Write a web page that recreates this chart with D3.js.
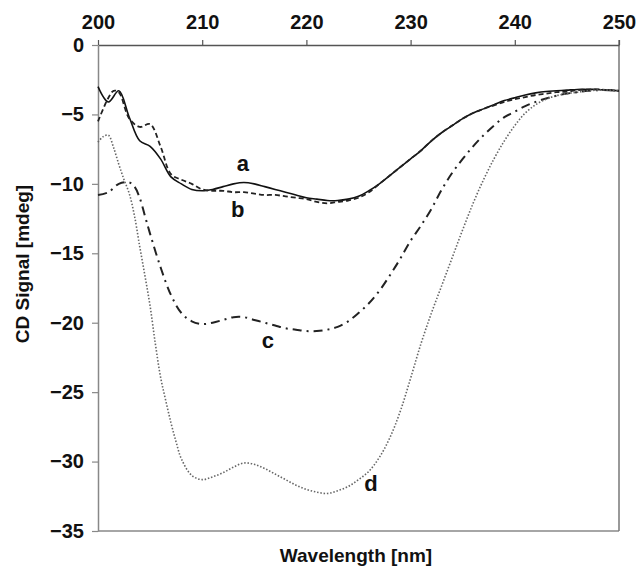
<!DOCTYPE html>
<html>
<head>
<meta charset="utf-8">
<script src="https://cdn.jsdelivr.net/npm/d3@7"></script>
<style>
  body { margin: 0; background: #fff; }
  text { font-family: "Liberation Sans", Arial, sans-serif; font-weight: bold; fill: #111; }
</style>
</head>
<body>
<svg id="chart" width="639" height="566"></svg>
<script>
// wavelength (nm) / CD signal (mdeg)
const waveA = [200, 201, 202, 203, 204, 205, 206, 207, 208, 209, 210, 211, 212, 213, 214, 215, 216, 217, 218, 219, 220, 221, 222, 223, 224, 225, 226, 227, 228, 229, 230, 231, 232, 233, 234, 235, 236, 237, 238, 239, 240, 241, 242, 243, 244, 245, 246, 247, 248, 249, 250];
const sigA = [-3.0, -4.1, -3.3, -5.2, -6.9, -7.3, -8.2, -9.5, -10.0, -10.4, -10.5, -10.4, -10.2, -10.0, -9.9, -10.0, -10.2, -10.4, -10.6, -10.8, -11.0, -11.1, -11.2, -11.2, -11.1, -10.9, -10.5, -10.0, -9.4, -8.8, -8.2, -7.6, -6.9, -6.3, -5.8, -5.3, -4.9, -4.6, -4.3, -4.0, -3.8, -3.6, -3.45, -3.35, -3.3, -3.25, -3.2, -3.2, -3.2, -3.25, -3.3];

const waveB = [200, 201, 201.5, 202, 203, 204, 205, 206, 207, 208, 209, 210, 211, 212, 213, 214, 215, 216, 217, 218, 219, 220, 221, 222, 223, 224, 225, 226, 227, 228, 229, 230, 231, 232, 233, 234, 235, 236, 237, 238, 239, 240, 241, 242, 243, 244, 245, 246, 247, 248, 249, 250];
const sigB = [-5.5, -3.8, -3.3, -3.4, -5.3, -5.9, -5.7, -7.3, -9.3, -9.7, -10.0, -10.4, -10.5, -10.5, -10.6, -10.6, -10.7, -10.8, -10.8, -10.9, -11.0, -11.1, -11.3, -11.4, -11.3, -11.2, -11.0, -10.6, -10.0, -9.4, -8.8, -8.2, -7.6, -6.9, -6.3, -5.8, -5.3, -4.9, -4.6, -4.35, -4.1, -3.9, -3.75, -3.6, -3.5, -3.4, -3.35, -3.25, -3.2, -3.2, -3.25, -3.3];

const waveC = [200, 201, 202, 203, 203.5, 204, 204.5, 205, 206, 207, 208, 209, 210, 211, 212, 213, 214, 215, 216, 217, 218, 219, 220, 221, 222, 223, 224, 225, 226, 227, 228, 229, 230, 231, 232, 233, 234, 235, 236, 237, 238, 239, 240, 241, 242, 243, 244, 245, 246, 247, 248, 249, 250];
const sigC = [-10.8, -10.6, -10.0, -9.9, -10.2, -11.0, -12.3, -13.6, -16.0, -18.0, -19.3, -19.9, -20.1, -20.0, -19.8, -19.6, -19.6, -19.8, -20.0, -20.2, -20.4, -20.5, -20.6, -20.6, -20.5, -20.3, -19.9, -19.3, -18.6, -17.7, -16.6, -15.4, -14.1, -13.0, -11.8, -10.4, -9.2, -8.2, -7.3, -6.5, -5.8, -5.2, -4.8, -4.4, -4.1, -3.85, -3.65, -3.5, -3.4, -3.3, -3.25, -3.25, -3.3];

const waveD = [200, 200.5, 201, 201.5, 202, 202.5, 203, 203.5, 204, 204.5, 205, 205.5, 206, 206.5, 207, 207.5, 208, 209, 210, 211, 212, 213, 214, 215, 216, 217, 218, 219, 220, 221, 222, 223, 224, 225, 226, 227, 228, 229, 230, 231, 232, 233, 234, 235, 236, 237, 238, 239, 240, 241, 242, 243, 244, 245, 246, 247, 248, 249, 250];
const sigD = [-7.0, -6.6, -6.5, -7.4, -8.6, -9.7, -10.7, -12.3, -14.5, -16.6, -18.8, -21.5, -23.9, -25.6, -27.2, -28.6, -29.8, -31.0, -31.3, -31.1, -30.8, -30.4, -30.1, -30.2, -30.5, -30.9, -31.3, -31.7, -32.0, -32.2, -32.3, -32.1, -31.8, -31.3, -30.7, -29.7, -28.3, -26.4, -24.0, -21.5, -19.3, -17.3, -15.3, -13.3, -11.4, -9.7, -8.2, -6.9, -5.8, -4.9, -4.3, -3.9, -3.65, -3.5, -3.4, -3.3, -3.25, -3.25, -3.3];

const xTicks = [200, 210, 220, 230, 240, 250];
const yTicks = [0, -5, -10, -15, -20, -25, -30, -35];
const curveNames = ["a", "b", "c", "d"];

const svg = d3.select("#chart");
const x = d3.scaleLinear().domain([200, 250]).range([98, 619]);
const y = d3.scaleLinear().domain([0, -35]).range([45, 531]);

// frame: bottom + right lines
svg.append("line").attr("x1", 98).attr("x2", 619).attr("y1", y(-35)).attr("y2", y(-35))
  .attr("stroke", "#888").attr("stroke-width", 1.5);
svg.append("line").attr("x1", x(250)).attr("x2", x(250)).attr("y1", 40).attr("y2", y(-35))
  .attr("stroke", "#777").attr("stroke-width", 1.5);

const gx = svg.append("g").attr("transform", `translate(0,${y(0)})`)
  .call(d3.axisTop(x).tickValues(xTicks).tickSize(5).tickPadding(11).tickSizeOuter(0));
gx.select(".domain").attr("stroke", "#555").attr("stroke-width", 1.5);
gx.selectAll(".tick line").attr("stroke", "#555").attr("stroke-width", 1.2);
gx.selectAll("text").style("font-size", "20px").attr("fill", "#111");

const gy = svg.append("g").attr("transform", `translate(${x(200)},0)`)
  .call(d3.axisLeft(y).tickValues(yTicks).tickSize(6).tickPadding(8).tickSizeOuter(0));
gy.select(".domain").attr("stroke", "#888").attr("stroke-width", 1.5);
gy.selectAll(".tick line").attr("stroke", "#888").attr("stroke-width", 1.2);
gy.selectAll("text").style("font-size", "20px").attr("fill", "#111");

const line = d3.line().x(d => x(d[0])).y(d => y(d[1])).curve(d3.curveCatmullRom);

const series = [
  { w: waveA, s: sigA, stroke: "#111", width: 1.6, dash: null },
  { w: waveB, s: sigB, stroke: "#222", width: 1.8, dash: "5,3" },
  { w: waveC, s: sigC, stroke: "#222", width: 2, dash: "9,5,2,5" },
  { w: waveD, s: sigD, stroke: "#666", width: 1.6, dash: "1.5,1.8" }
];

series.forEach(sr => {
  svg.append("path")
    .datum(d3.zip(sr.w, sr.s))
    .attr("d", line)
    .attr("fill", "none")
    .attr("stroke", sr.stroke)
    .attr("stroke-width", sr.width)
    .attr("stroke-dasharray", sr.dash);
});

// curve letters
const labelPos = [[213.9, -9.1], [213.4, -12.4], [216.3, -21.8], [226.2, -32.1]];
svg.selectAll("text.lbl").data(curveNames).enter().append("text")
  .attr("class", "lbl")
  .attr("x", (d, i) => x(labelPos[i][0]))
  .attr("y", (d, i) => y(labelPos[i][1]))
  .attr("text-anchor", "middle")
  .style("font-size", "22px")
  .text(d => d);

svg.append("text")
  .attr("x", 356).attr("y", 562)
  .attr("text-anchor", "middle")
  .style("font-size", "19px")
  .text("Wavelength [nm]");

svg.append("text")
  .attr("transform", "translate(29,264) rotate(-90)")
  .attr("text-anchor", "middle")
  .style("font-size", "19px")
  .text("CD Signal [mdeg]");
</script>
</body>
</html>
